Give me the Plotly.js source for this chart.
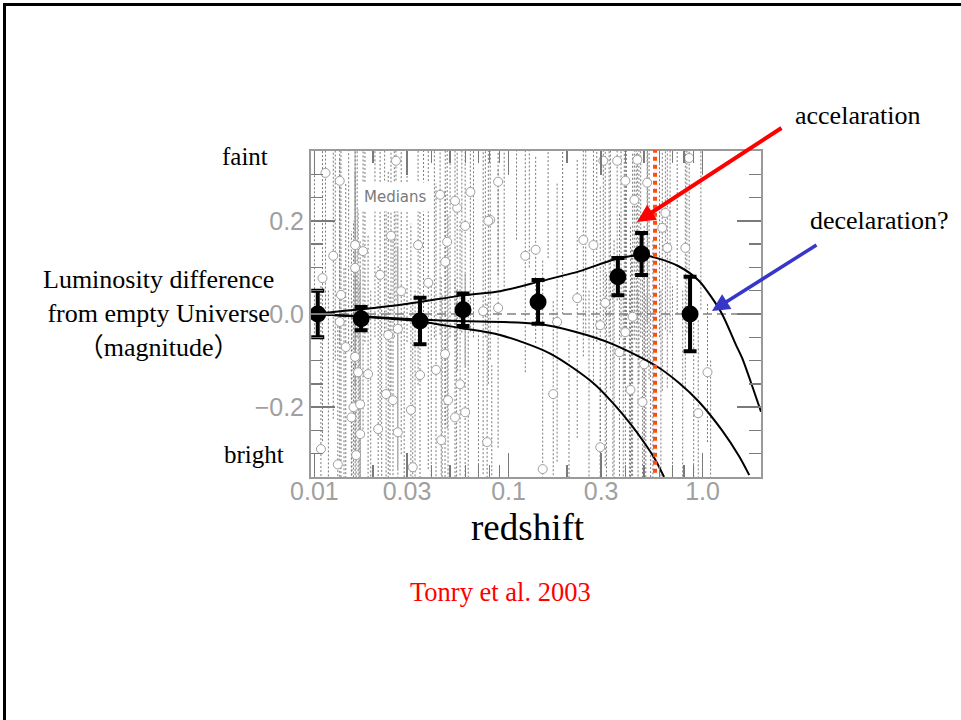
<!DOCTYPE html>
<html>
<head>
<meta charset="utf-8">
<script src="https://cdn.plot.ly/plotly-3.0.1.min.js"></script>
<style>
  html, body { margin: 0; padding: 0; background: #fff; }
  #frame { position: absolute; left: 3px; top: 3px; width: 980px; height: 740px;
           border-top: 3px solid #000; border-left: 3px solid #000; }
  #chart { position: absolute; left: 0; top: 0; width: 961px; height: 720px; }
</style>
</head>
<body>
<div id="chart"></div>
<div id="frame"></div>
<script>
// Binned medians (redshift, magnitude difference, error)
const medianZ   = [0.0104, 0.0174, 0.035, 0.0583, 0.142, 0.366, 0.485, 0.862];
const medianMag = [0.0, -0.010, -0.015, 0.009, 0.026, 0.080, 0.129, 0.0];
const medianErr = [0.050, 0.025, 0.050, 0.035, 0.047, 0.040, 0.045, 0.080];

// Individual supernovae behind the medians (several lie off the plotted range)
const snZ = [0.0114, 0.0135, 0.0263, 0.0884, 0.0636, 0.0544, 0.0805, 0.0248, 0.0162, 0.0178,
             0.0125, 0.0483, 0.0472, 0.0386, 0.122, 0.0110, 0.0162, 0.0218, 0.0342, 0.0137,
             0.0280, 0.0444, 0.0530, 0.0787, 0.0598, 0.138, 0.243, 0.274, 0.308, 0.226,
             0.315, 0.0884, 0.0740, 0.363, 0.461, 0.853, 0.400, 0.518, 0.643, 0.815,
             0.658, 0.620, 0.445,
             0.0135, 0.0145, 0.0162, 0.0168, 0.0189, 0.0159, 0.0172, 0.0155, 0.0172, 0.0164,
             0.0108, 0.0132, 0.0240, 0.0269, 0.0234, 0.0254, 0.0213, 0.0269, 0.0350, 0.0314,
             0.0321, 0.0423, 0.0471, 0.0488, 0.0530, 0.0450, 0.0563, 0.0598, 0.0776, 0.178,
             0.170, 0.150, 0.297, 0.297, 0.400, 0.500, 0.425, 0.490, 1.06, 0.950,
             0.436, 0.373,
             0.0100, 0.0118, 0.0128, 0.0142, 0.0150, 0.0156, 0.0166, 0.0170, 0.0182, 0.0195,
             0.0205, 0.0222, 0.0230, 0.0245, 0.0258, 0.0290, 0.0300, 0.0330, 0.0365, 0.0400,
             0.0415, 0.0455, 0.0500, 0.0540, 0.0575, 0.0620, 0.0660, 0.0700, 0.0760, 0.0820,
             0.0950, 0.110, 0.128, 0.160, 0.190, 0.205, 0.250, 0.260, 0.285, 0.320,
             0.330, 0.345, 0.380, 0.390, 0.405, 0.420, 0.455, 0.465, 0.480, 0.510,
             0.520, 0.540, 0.600, 0.610, 0.680, 0.700, 0.740, 0.790, 0.830, 0.900,
             0.980, 1.10, 0.335, 0.350, 0.395, 0.430, 0.470, 0.500, 0.530, 0.555];
const snMag = [0.303, 0.286, 0.329, 0.284, 0.262, 0.228, 0.202, 0.168, 0.148, 0.135,
               0.125, 0.155, 0.112, 0.067, 0.125, 0.077, 0.099, 0.084, 0.148, 0.041,
               0.049, 0.256, 0.243, 0.200, 0.189, 0.138, 0.159, 0.148, 0.329, 0.034,
               0.024, 0.013, 0.006, 0.329, 0.331, 0.335, 0.286, 0.282, 0.217, 0.142,
               0.142, 0.185, 0.245,
               -0.017, -0.071, -0.092, -0.125, -0.129, -0.200, -0.194, -0.222, -0.258, -0.303,
               -0.290, -0.323, -0.045, -0.032, -0.172, -0.185, -0.247, -0.254, -0.131, -0.206,
               -0.329, -0.120, -0.086, -0.185, -0.222, -0.271, -0.151, -0.211, -0.275, -0.017,
               -0.172, -0.333, -0.286, -0.024, -0.039, -0.108, -0.163, -0.189, -0.125, -0.213,
               -0.006, -0.082,
               0.45, -0.45, 0.50, -0.50, 0.42, -0.42, 0.45, -0.48, 0.44, -0.45,
               0.50, -0.43, 0.46, -0.50, 0.45, -0.46, 0.44, -0.45, 0.47, -0.44,
               0.45, -0.46, 0.45, -0.45, 0.46, -0.47, 0.45, -0.44, 0.45, -0.46,
               0.45, 0.46, 0.45, 0.47, 0.45, -0.45, 0.46, -0.45, 0.44, -0.46,
               0.45, -0.44, 0.45, -0.46, 0.47, -0.45, 0.46, -0.45, 0.45, -0.46,
               0.45, -0.46, 0.45, -0.45, 0.46, -0.44, 0.45, -0.45, 0.46, -0.45,
               0.46, -0.45, 0.44, -0.44, 0.45, -0.46, 0.45, -0.45, 0.46, -0.44];
const snErr = [0.30, 0.35, 0.30, 0.20, 0.30, 0.35, 0.30, 0.35, 0.30, 0.40,
               0.35, 0.40, 0.35, 0.40, 0.25, 0.35, 0.40, 0.35, 0.30, 0.40,
               0.35, 0.30, 0.30, 0.35, 0.30, 0.20, 0.25, 0.30, 0.35, 0.30,
               0.35, 0.30, 0.35, 0.30, 0.35, 0.30, 0.35, 0.30, 0.25, 0.30,
               0.30, 0.35, 0.30,
               0.35, 0.35, 0.40, 0.35, 0.30, 0.40, 0.35, 0.40, 0.35, 0.40,
               0.35, 0.30, 0.35, 0.30, 0.40, 0.35, 0.35, 0.40, 0.35, 0.40,
               0.35, 0.40, 0.35, 0.40, 0.30, 0.35, 0.35, 0.30, 0.30, 0.30,
               0.20, 0.45, 0.15, 0.30, 0.30, 0.30, 0.35, 0.30, 0.15, 0.20,
               0.35, 0.30,
               0.50, 0.50, 0.60, 0.60, 0.50, 0.45, 0.50, 0.55, 0.50, 0.50,
               0.55, 0.45, 0.50, 0.55, 0.50, 0.50, 0.50, 0.50, 0.50, 0.50,
               0.50, 0.50, 0.50, 0.50, 0.50, 0.50, 0.50, 0.40, 0.50, 0.35,
               0.40, 0.30, 0.35, 0.35, 0.45, 0.40, 0.50, 0.50, 0.50, 0.55,
               0.50, 0.50, 0.50, 0.55, 0.50, 0.50, 0.55, 0.50, 0.50, 0.50,
               0.55, 0.50, 0.50, 0.50, 0.50, 0.50, 0.45, 0.50, 0.50, 0.45,
               0.45, 0.35, 0.60, 0.60, 0.60, 0.60, 0.60, 0.60, 0.60, 0.60];

// Model curves
const accelZ   = [0.0097, 0.0174, 0.0303, 0.0583, 0.0904, 0.145, 0.233, 0.352, 0.485, 0.569, 0.757, 0.96, 1.12, 1.26, 1.50, 1.60, 1.82, 2.0];
const accelMag = [0.0, 0.010, 0.022, 0.040, 0.049, 0.070, 0.092, 0.117, 0.126, 0.121, 0.102, 0.071, 0.034, 0.0, -0.070, -0.095, -0.160, -0.210];
const flatZ    = [0.0097, 0.0174, 0.035, 0.0562, 0.140, 0.225, 0.342, 0.569, 0.757, 0.96, 1.26, 1.54, 1.74];
const flatMag  = [0.0, -0.005, -0.012, -0.015, -0.021, -0.039, -0.064, -0.110, -0.148, -0.189, -0.250, -0.305, -0.346];
const closedZ   = [0.0097, 0.0174, 0.035, 0.0562, 0.0904, 0.164, 0.273, 0.352, 0.433, 0.50, 0.569, 0.633];
const closedMag = [0.0, -0.006, -0.016, -0.030, -0.045, -0.085, -0.148, -0.195, -0.240, -0.276, -0.312, -0.350];

// Redshift of the dotted marker line
const markerZ = 0.569;

// Axis ticks
const xTickVals = [0.01, 0.03, 0.1, 0.3, 1.0];
const xTickText = ['0.01', '0.03', '0.1', '0.3', '1.0'];
const xMinorVals = [0.02, 0.04, 0.05, 0.06, 0.07, 0.08, 0.09, 0.2, 0.4, 0.5, 0.6, 0.7, 0.8, 0.9, 2.0];
const yTickVals = [-0.2, 0.0, 0.2];
const yTickText = ['\u22120.2', '0.0', '0.2'];
const yMinorVals = [-0.3, -0.25, -0.15, -0.1, -0.05, 0.05, 0.1, 0.15, 0.25, 0.3];

// Dotted error bars for the individual supernovae, one segment each
const barX = [], barY = [];
snZ.forEach((z, i) => {
  barX.push(z, z, null);
  barY.push(snMag[i] - snErr[i], snMag[i] + snErr[i], null);
});

const grey = '#9a9a9a';
const tickFont = { family: 'Liberation Sans, Arial, sans-serif', size: 25, color: '#a0a0a0' };
const serif = 'Liberation Serif, Times New Roman, serif';

function label(x, y, text, size, color, family) {
  return { xref: 'paper', yref: 'paper', x: x, y: y, text: text, showarrow: false,
           xanchor: 'center', yanchor: 'middle',
           font: { family: family || serif, size: size, color: color || '#000' } };
}

const traces = [
  { x: barX, y: barY, mode: 'lines', hoverinfo: 'skip',
    line: { color: '#7a7a7a', width: 1, dash: '2px,2px' } },
  { x: snZ, y: snMag, mode: 'markers', hoverinfo: 'skip',
    marker: { symbol: 'circle', size: 9, color: '#fff', line: { color: '#a0a0a0', width: 1 } } },
  { x: accelZ, y: accelMag, mode: 'lines', line: { color: '#000', width: 2, shape: 'spline', smoothing: 0.8 } },
  { x: flatZ, y: flatMag, mode: 'lines', line: { color: '#000', width: 2, shape: 'spline', smoothing: 0.8 } },
  { x: closedZ, y: closedMag, mode: 'lines', line: { color: '#000', width: 2, shape: 'spline', smoothing: 0.8 } },
  { x: medianZ, y: medianMag, mode: 'markers',
    marker: { color: '#000', size: 17 },
    error_y: { type: 'data', array: medianErr, visible: true, color: '#000', thickness: 4, width: 6.5 } }
];

const layout = {
  width: 961, height: 720,
  margin: { l: 311, r: 200, t: 151, b: 243 },
  paper_bgcolor: '#fff', plot_bgcolor: '#fff',
  showlegend: false,
  xaxis: {
    type: 'log', range: [Math.log10(0.0096), Math.log10(2.0)],
    tickvals: xTickVals, ticktext: xTickText,
    ticks: 'inside', ticklen: 24, tickwidth: 1.5, tickcolor: '#7a7a7a',
    minor: { tickvals: xMinorVals, ticks: 'inside', ticklen: 12, tickwidth: 1.5, tickcolor: '#7a7a7a', showgrid: false },
    showgrid: false, zeroline: false,
    showline: true, linecolor: grey, linewidth: 2, mirror: 'ticks',
    ticklabelstandoff: -9,
    tickfont: tickFont
  },
  yaxis: {
    range: [-0.35, 0.35],
    tickvals: yTickVals, ticktext: yTickText,
    ticks: 'inside', ticklen: 24, tickwidth: 1.5, tickcolor: '#7a7a7a',
    minor: { tickvals: yMinorVals, ticks: 'inside', ticklen: 12, tickwidth: 1.5, tickcolor: '#7a7a7a', showgrid: false },
    showgrid: false, zeroline: false,
    showline: true, linecolor: grey, linewidth: 2, mirror: 'ticks',
    tickfont: tickFont
  },
  shapes: [
    { type: 'line', xref: 'paper', yref: 'y', x0: 0, x1: 1, y0: 0, y1: 0, layer: 'below',
      line: { color: '#a0a0a0', width: 2, dash: '9px,5px' } },
    { type: 'line', xref: 'x', yref: 'paper', x0: markerZ, x1: markerZ, y0: 0.013, y1: 1.003, layer: 'above',
      line: { color: '#ff4a12', width: 4, dash: '4px,4px' } }
  ],
  annotations: [
    Object.assign(label(0.1867, 0.859, 'Medians', 15, '#7a7a7a', 'DejaVu Sans, sans-serif'),
                  { bgcolor: '#fff', borderpad: 5 }),
    { xref: 'paper', yref: 'paper', x: 0.7244, y: 0.7822, text: '', showarrow: true,
      axref: 'pixel', ayref: 'pixel', ax: 146, ay: -95,
      arrowcolor: '#ff0000', arrowwidth: 4, arrowhead: 2, arrowsize: 0.9 },
    { xref: 'paper', yref: 'paper', x: 0.8911, y: 0.5092, text: '', showarrow: true,
      axref: 'pixel', ayref: 'pixel', ax: 106, ay: -67,
      arrowcolor: '#3636c8', arrowwidth: 3.5, arrowhead: 2, arrowsize: 1 },
    label(1.2156, 1.1074, 'accelaration', 26),
    label(1.2644, 0.7853, 'decelaration?', 26),
    label(-0.1467, 0.9816, 'faint', 25),
    label(-0.1267, 0.0675, 'bright', 25),
    label(-0.34, 0.502, 'Luminosity difference<br>from empty Universe<br>\uff08magnitude\uff09', 26, '#000',
          serif + ', Noto Sans CJK JP'),
    label(0.4822, -0.1534, 'redshift', 37),
    label(0.42, -0.3528, 'Tonry et al. 2003', 26.5, '#ff0000')
  ]
};

Plotly.newPlot('chart', traces, layout, { staticPlot: true, displayModeBar: false });
</script>
</body>
</html>
